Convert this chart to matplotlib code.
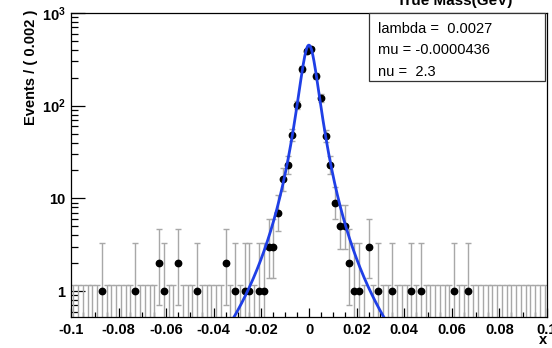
import math
import numpy as np
import matplotlib.pyplot as plt
from matplotlib.patches import Rectangle
from matplotlib.ticker import FixedLocator, MultipleLocator, NullFormatter, LogLocator

plt.rcParams['font.family'] = ['Liberation Sans', 'DejaVu Sans']
plt.rcParams['mathtext.fontset'] = 'custom'
plt.rcParams['mathtext.rm'] = 'Liberation Sans'
plt.rcParams['mathtext.bf'] = 'Liberation Sans:bold'

# histogram binning
x_lo, x_hi, bin_width = -0.1, 0.1, 0.002

# bins that have entries (bin centre, count)
filled_x = [-0.087, -0.073, -0.063, -0.061, -0.055, -0.047,
            -0.035, -0.031, -0.027, -0.025, -0.021, -0.019,
            -0.017, -0.015, -0.013, -0.011, -0.009, -0.007,
            -0.005, -0.003, -0.001, 0.001, 0.003, 0.005,
            0.007, 0.009, 0.011, 0.013, 0.015, 0.017,
            0.019, 0.021, 0.025, 0.029, 0.035, 0.043,
            0.047, 0.061, 0.067]
filled_n = [1, 1, 2, 1, 2, 1,
            2, 1, 1, 1, 1, 1,
            3, 3, 7, 16, 23, 48,
            102, 248, 390, 405, 210, 120,
            47, 23, 9, 5, 5, 2,
            1, 1, 3, 1, 1, 1,
            1, 1, 1]

# fitted Student-t parameters shown in the box
lam = 0.0027
mu = -0.0000436
nu = 2.3
peak_height = 450

n_bins = int(round((x_hi - x_lo) / bin_width))
centers = x_lo + bin_width * (np.arange(n_bins) + 0.5)
counts = np.zeros(n_bins)
for xv, nv in zip(filled_x, filled_n):
    counts[int(round((xv - x_lo) / bin_width - 0.5))] = nv


def pois_cdf(n, m):
    if n < 0:
        return 0.0
    k = np.arange(n + 1)
    lg = np.array([math.lgamma(i + 1) for i in k])
    return float(np.exp(-m + k * math.log(m) - lg).sum())


def garwood(n, alpha=0.158655):
    # 68% poisson interval, one-sided for empty bins like RooFit
    if n == 0:
        return 0.0, -math.log(2 * alpha)
    a, b = 1e-9, float(n)
    for _ in range(60):
        c = 0.5 * (a + b)
        if pois_cdf(n - 1, c) > 1 - alpha:
            a = c
        else:
            b = c
    lo = 0.5 * (a + b)
    a, b = float(n) + 1e-9, n + 6 * math.sqrt(n + 1) + 6
    for _ in range(60):
        c = 0.5 * (a + b)
        if pois_cdf(n, c) > alpha:
            a = c
        else:
            b = c
    hi = 0.5 * (a + b)
    return lo, hi


lows, highs = zip(*[garwood(int(n)) for n in counts])
lows = np.maximum(np.array(lows), 1e-3)
highs = np.array(highs)

fig = plt.figure(figsize=(5.52, 3.48), dpi=100)
ax = fig.add_axes([71 / 552, 1 - 317 / 348, 476 / 552, 304 / 348])
ax.set_yscale('log')

err_col = '#a8a8a8'
ax.vlines(centers, lows, highs, color=err_col, lw=1.0, zorder=2)
ax.plot(centers, highs, '_', color=err_col, ms=4, mew=1.0, zorder=2)
ax.plot(centers, lows, '_', color=err_col, ms=4, mew=1.0, zorder=2)
mask = counts > 0
ax.plot(centers[mask], counts[mask], 'o', color='black', ms=4.6, zorder=3)

xs = np.linspace(x_lo, x_hi, 2001)
ys = peak_height * (1 + ((xs - mu) / lam) ** 2 / nu) ** (-(nu + 1) / 2)
ax.plot(xs, ys, color='#1f3fe6', lw=2, zorder=4)

ax.set_xlim(x_lo, x_hi)
ax.set_ylim(10 ** (-26 / 92.67), 1000)

ax.xaxis.set_minor_locator(MultipleLocator(0.005))
ax.set_xticks([-0.1, -0.08, -0.06, -0.04, -0.02, 0, 0.02, 0.04, 0.06, 0.08, 0.1])
ax.set_xticklabels(['-0.1', '-0.08', '-0.06', '-0.04', '-0.02', '0',
                    '0.02', '0.04', '0.06', '0.08', '0.1'])
ax.yaxis.set_major_locator(FixedLocator([1, 10, 100, 1000]))
ax.yaxis.set_minor_locator(LogLocator(base=10, subs=np.arange(2, 10)))
ax.yaxis.set_minor_formatter(NullFormatter())
ax.set_yticklabels(['1', '10', r'$\mathbf{10^{2}}$', r'$\mathbf{10^{3}}$'])

ax.tick_params(direction='in', which='both', top=False, right=False,
               labelsize=10.5, width=0.9)
ax.tick_params(axis='x', which='major', length=6.5, pad=4)
ax.tick_params(axis='x', which='minor', length=3.6)
ax.tick_params(axis='y', which='major', length=10, pad=4)
ax.tick_params(axis='y', which='minor', length=5)
for lab in ax.get_xticklabels() + ax.get_yticklabels():
    lab.set_fontweight('bold')
for sp in ax.spines.values():
    sp.set_linewidth(0.9)

fig.text(31 / 552, 1 - 10 / 348, 'Events / ( 0.002 )', rotation=90,
         ha='center', va='top', fontsize=10.5, fontweight='bold')
fig.text(543 / 552, 1 - 340 / 348, 'x', ha='center', va='center',
         fontsize=10.5, fontweight='bold')
fig.text(455 / 552, 1 - 5 / 348, 'True Mass(GeV)', ha='center', va='baseline',
         fontsize=11, fontweight='bold')

box = Rectangle((369 / 552, 1 - 81 / 348), 176 / 552, 68 / 348,
                transform=fig.transFigure, facecolor='white', edgecolor='#333333',
                lw=0.9, zorder=10, clip_on=False)
ax.add_artist(box)
for yy, txt in [(29, 'lambda =  0.0027'), (50, 'mu = -0.0000436'), (72, 'nu =  2.3')]:
    ax.text(378 / 552, 1 - yy / 348, txt, transform=fig.transFigure,
            ha='left', va='center', fontsize=10.5, zorder=11, clip_on=False)

fig.savefig('out.png', dpi=100)
